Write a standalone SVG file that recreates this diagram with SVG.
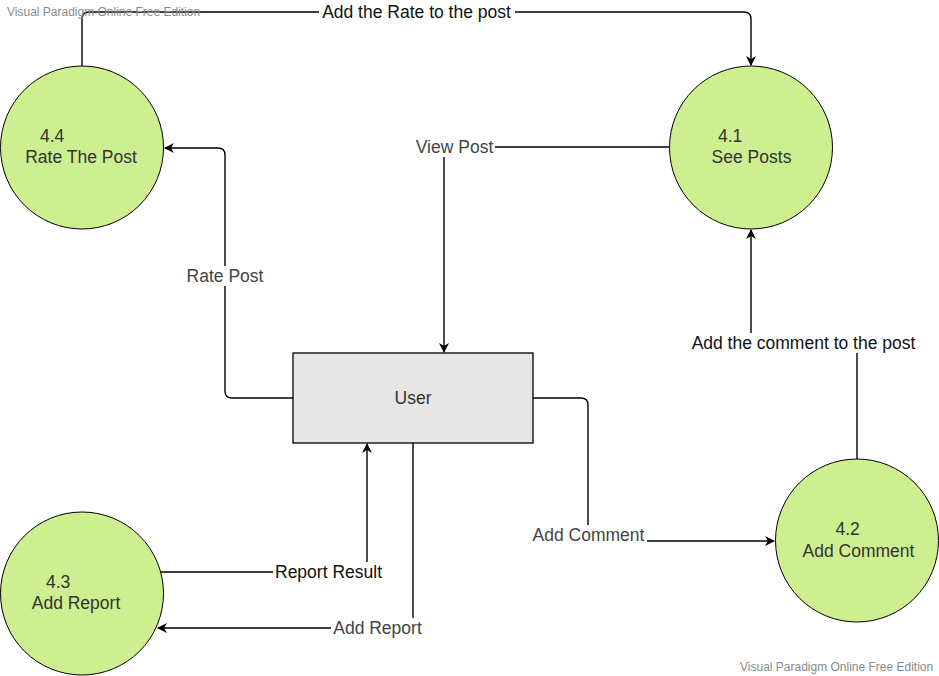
<svg xmlns="http://www.w3.org/2000/svg" width="939" height="676" viewBox="0 0 939 676">
<style>
.proc{fill:#cdef8f;stroke:#000;stroke-width:1}
.ent{fill:#e6e6e6;stroke:#000;stroke-width:1.3}
.ntext{font-family:"Liberation Sans",Arial,sans-serif;font-size:17.5px;fill:#333}
.lbl{font-family:"Liberation Sans",Arial,sans-serif;font-size:17.5px;text-anchor:middle}
.dark{fill:#111}
.grey{fill:#444}
.bg{fill:#fff}
.conn{fill:none;stroke:#000;stroke-width:1.4}
.wm{font-family:"Liberation Sans",Arial,sans-serif;font-size:12px;fill:#8a8a8a}
</style>
<defs>
<marker id="arr" viewBox="0 0 10 10" refX="9" refY="5" markerWidth="10" markerHeight="10" markerUnits="userSpaceOnUse" orient="auto">
<path d="M0,0 L10,5 L0,10 L3,5 Z" fill="#000"/>
</marker>
</defs>
<rect width="939" height="676" fill="#fff"/>
<g id="connectors">
<path class="conn" d="M82,66 L82,19 Q82,12 89,12 L744,12 Q751,12 751,19 L751,65" marker-end="url(#arr)"/>
<path class="conn" d="M669,147 L444,147 L444,352" marker-end="url(#arr)"/>
<path class="conn" d="M293,398 L232,398 Q225,398 225,391 L225,155 Q225,148 218,148 L165,148" marker-end="url(#arr)"/>
<path class="conn" d="M533,398 L581,398 Q588,398 588,405 L588,541 L774,541" marker-end="url(#arr)"/>
<path class="conn" d="M857,459 L857,343 L751,343 L751,230" marker-end="url(#arr)"/>
<path class="conn" d="M161,572 L367,572 L367,444" marker-end="url(#arr)"/>
<path class="conn" d="M413,443 L413,628 L158,628" marker-end="url(#arr)"/>
<rect class="bg" x="319" y="2" width="196" height="20"/>
<rect class="bg" x="414" y="137" width="81" height="20"/>
<rect class="bg" x="185" y="266" width="80" height="20"/>
<rect class="bg" x="530" y="525" width="117" height="20"/>
<rect class="bg" x="688" y="333" width="231" height="20"/>
<rect class="bg" x="273" y="562" width="111" height="20"/>
<rect class="bg" x="331" y="618" width="93" height="20"/>
<text class="lbl dark" x="416.5" y="18">Add the Rate to the post</text>
<text class="lbl grey" x="454.5" y="153">View Post</text>
<text class="lbl grey" x="225" y="282">Rate Post</text>
<text class="lbl grey" x="588.5" y="541">Add Comment</text>
<text class="lbl dark" x="803.5" y="349">Add the comment to the post</text>
<text class="lbl dark" x="328.5" y="578">Report Result</text>
<text class="lbl grey" x="377.5" y="634">Add Report</text>
</g>
<g id="node-4-4">
<circle class="proc" cx="82" cy="147.5" r="81.5"/>
<text class="ntext" x="40" y="142">4.4</text>
<text class="ntext" x="81" y="163" text-anchor="middle">Rate The Post</text>
</g>
<g id="node-4-1">
<circle class="proc" cx="751" cy="147.5" r="81.5"/>
<text class="ntext" x="718" y="142">4.1</text>
<text class="ntext" x="751.5" y="163" text-anchor="middle">See Posts</text>
</g>
<g id="node-4-3">
<circle class="proc" cx="82" cy="593.5" r="81.5"/>
<text class="ntext" x="46" y="588">4.3</text>
<text class="ntext" x="76" y="609" text-anchor="middle">Add Report</text>
</g>
<g id="node-4-2">
<circle class="proc" cx="857" cy="540.5" r="81.5"/>
<text class="ntext" x="835.5" y="535">4.2</text>
<text class="ntext" x="858.5" y="557" text-anchor="middle">Add Comment</text>
</g>
<g id="node-user">
<rect class="ent" x="293" y="353" width="240" height="90"/>
<text class="ntext" x="413" y="404" text-anchor="middle">User</text>
</g>
<text class="wm" x="7" y="16">Visual Paradigm Online Free Edition</text>
<text class="wm" x="740" y="671">Visual Paradigm Online Free Edition</text>
</svg>
